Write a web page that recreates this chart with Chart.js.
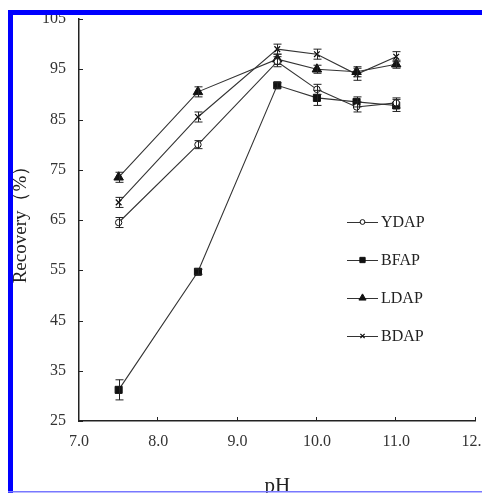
<!DOCTYPE html>
<html>
<head>
<meta charset="utf-8">
<script src="https://cdn.jsdelivr.net/npm/chart.js@4/dist/chart.umd.min.js"></script>
<style>
html,body{margin:0;padding:0;background:#fff;}
#wrap{position:relative;width:482px;height:493px;}
</style>
</head>
<body>
<div id="wrap"><canvas id="c" width="482" height="493"></canvas></div>
<script>
const pH = [7.5, 8.5, 9.5, 10.0, 10.5, 11.0];
const seriesNames = ['YDAP', 'BFAP', 'LDAP', 'BDAP'];
const YDAP = [64.5, 80.0, 96.5, 91.0, 87.5, 88.3];
const BFAP = [31.2, 54.7, 91.8, 89.3, 88.5, 87.8];
const LDAP = [73.5, 90.5, 97.0, 95.0, 94.5, 96.0];
const BDAP = [68.5, 85.5, 99.0, 98.0, 94.0, 97.5];
const YDAP_err = [1.0, 0.8, 1.0, 1.0, 1.0, 1.0];
const BFAP_err = [2.0, 0.5, 0.5, 1.5, 1.0, 1.2];
const LDAP_err = [1.0, 1.0, 1.0, 0.8, 1.0, 0.8];
const BDAP_err = [1.0, 1.0, 1.0, 1.0, 1.2, 1.0];
const xTicks = [7, 8, 9, 10, 11, 12];
const yTicks = [25, 35, 45, 55, 65, 75, 85, 95, 105];

const values = [YDAP, BFAP, LDAP, BDAP];
const errors = [YDAP_err, BFAP_err, LDAP_err, BDAP_err];
const styles = [
  {pointStyle:'circle', radius:3.2, bg:'#fff', bw:1},
  {pointStyle:'rect', radius:5, bg:'#111', bw:1},
  {pointStyle:'triangle', radius:5.5, bg:'#111', bw:1},
  {pointStyle:'crossRot', radius:4, bg:'#111', bw:1.3}
];

const datasets = seriesNames.map((n, i) => ({
  label: n,
  data: pH.map((x, j) => ({x: x, y: values[i][j]})),
  err: errors[i],
  borderColor: '#333',
  borderWidth: 1.1,
  pointStyle: styles[i].pointStyle,
  pointRadius: styles[i].radius,
  pointBackgroundColor: styles[i].bg,
  pointBorderColor: '#111',
  pointBorderWidth: styles[i].bw,
  tension: 0,
  fill: false
}));

const errorBars = {
  id: 'errorBars',
  afterDatasetsDraw(chart) {
    const ctx = chart.ctx, xs = chart.scales.x, ys = chart.scales.y;
    ctx.save();
    ctx.strokeStyle = '#222';
    ctx.lineWidth = 1;
    chart.data.datasets.forEach(ds => {
      ds.data.forEach((p, j) => {
        const e = ds.err[j];
        const px = Math.round(xs.getPixelForValue(p.x)) + 0.5;
        const y1 = ys.getPixelForValue(p.y + e), y2 = ys.getPixelForValue(p.y - e);
        ctx.beginPath();
        ctx.moveTo(px, y1); ctx.lineTo(px, y2);
        ctx.moveTo(px - 4, y1); ctx.lineTo(px + 4, y1);
        ctx.moveTo(px - 4, y2); ctx.lineTo(px + 4, y2);
        ctx.stroke();
      });
    });
    ctx.restore();
  }
};

const innerTicks = {
  id: 'innerTicks',
  afterDraw(chart) {
    const ctx = chart.ctx, xs = chart.scales.x, ys = chart.scales.y, a = chart.chartArea;
    ctx.save();
    ctx.strokeStyle = '#222';
    ctx.lineWidth = 1;
    ctx.beginPath();
    xTicks.forEach(v => {
      const px = Math.round(xs.getPixelForValue(v)) - 0.5;
      ctx.moveTo(px, a.bottom); ctx.lineTo(px, a.bottom - 4);
    });
    yTicks.forEach(v => {
      const py = Math.round(ys.getPixelForValue(v)) + 0.5;
      ctx.moveTo(a.left, py); ctx.lineTo(a.left + 4, py);
    });
    ctx.stroke();

    // legend
    const lx1 = 347, lx2 = 378, ly = [222, 260, 298, 336];
    ctx.font = '16px "Liberation Serif", "DejaVu Serif", serif';
    ctx.textBaseline = 'middle';
    ctx.textAlign = 'left';
    chart.data.datasets.forEach((ds, i) => {
      ctx.strokeStyle = '#333';
      ctx.lineWidth = 1;
      ctx.beginPath();
      ctx.moveTo(lx1, ly[i] + 0.5); ctx.lineTo(lx2, ly[i] + 0.5);
      ctx.stroke();
      ctx.fillStyle = styles[i].bg;
      ctx.strokeStyle = '#111';
      ctx.lineWidth = styles[i].bw;
      if (Chart.helpers && Chart.helpers.drawPoint) {
        Chart.helpers.drawPoint(ctx, {pointStyle: styles[i].pointStyle, radius: styles[i].radius * 0.75, rotation: 0, borderWidth: styles[i].bw}, (lx1 + lx2) / 2, ly[i]);
      }
      ctx.fillStyle = '#222';
      ctx.fillText(ds.label, 381, ly[i] + 1);
    });

    // frame
    ctx.fillStyle = '#0000ff';
    ctx.fillRect(8, 10, 474, 5);
    ctx.fillRect(8, 10, 5, 483);
    ctx.fillStyle = '#7878ff';
    ctx.fillRect(8, 491, 474, 1.5);
    ctx.restore();
  }
};

const serif = '"Liberation Serif", "DejaVu Serif", serif';

new Chart(document.getElementById('c'), {
  type: 'line',
  data: {datasets: datasets},
  options: {
    responsive: false,
    animation: false,
    layout: {padding: {left: 0, right: 6, top: 19, bottom: 0}},
    plugins: {legend: {display: false}, tooltip: {enabled: false}},
    scales: {
      x: {
        type: 'linear',
        min: 7, max: 12,
        afterBuildTicks(s) { s.ticks = xTicks.map(v => ({value: v})); },
        afterFit(s) { s.height = 72; s.paddingLeft = 0; s.paddingRight = 0; },
        grid: {display: false, drawTicks: false},
        border: {display: true, color: '#222', width: 1.5},
        ticks: {
          padding: 11,
          color: '#333',
          font: {family: serif, size: 16},
          callback: v => Number(v).toFixed(1),
          maxRotation: 0, autoSkip: false
        },
        title: {
          display: true, text: 'pH', color: '#222',
          font: {family: serif, size: 21, lineHeight: 1},
          padding: {top: 0, bottom: -4}
        }
      },
      y: {
        type: 'linear',
        min: 25, max: 105,
        afterBuildTicks(s) { s.ticks = yTicks.map(v => ({value: v})); },
        afterFit(s) { s.width = 79; s.paddingTop = 0; s.paddingBottom = 0; },
        grid: {display: false, drawTicks: false},
        border: {display: true, color: '#222', width: 1.5},
        ticks: {
          padding: 13,
          color: '#333',
          font: {family: serif, size: 16}
        },
        title: {
          display: true, text: 'Recovery（%）', color: '#222',
          font: {family: serif, size: 19, lineHeight: 1.2},
          padding: {top: 10, bottom: 0}
        }
      }
    }
  },
  plugins: [errorBars, innerTicks]
});
</script>
</body>
</html>
